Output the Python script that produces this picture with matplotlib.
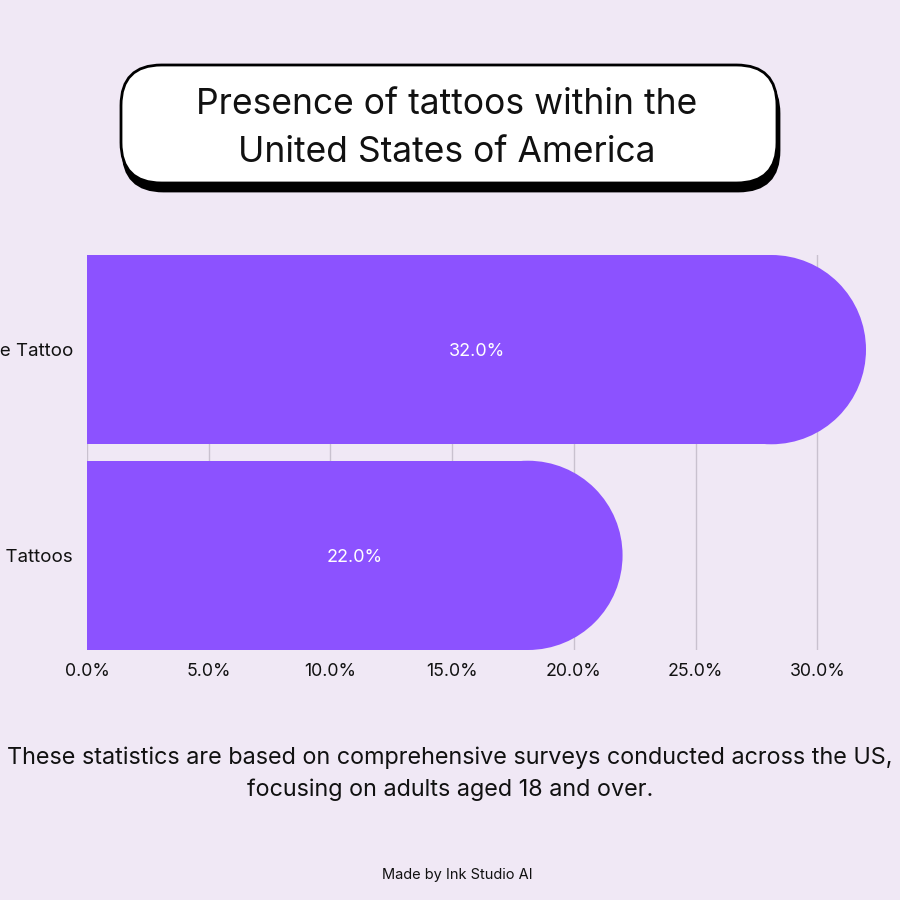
import matplotlib
matplotlib.use("Agg")
import matplotlib.pyplot as plt
from matplotlib.patches import FancyBboxPatch, Ellipse

categories = ["At Least One Tattoo", "Multiple Tattoos"]
values = [32.0, 22.0]
xticks = [0, 5, 10, 15, 20, 25, 30]
xtick_labels = ["0.0%", "5.0%", "10.0%", "15.0%", "20.0%", "25.0%", "30.0%"]
title_lines = ["Presence of tattoos within the", "United States of America"]
footnote = ("These statistics are based on comprehensive surveys conducted across the US,\n"
            "focusing on adults aged 18 and over.")
credit = "Made by Ink Studio AI"

BG = "#F0E8F5"
BAR = "#8C52FF"
plt.rcParams['font.family'] = ['Inter', 'DejaVu Sans']

fig = plt.figure(figsize=(9, 9), dpi=100, facecolor=BG)
W = H = 900.0

# Title box with shadow
def box(x0, y0, x1, y1, **kw):
    return FancyBboxPatch((x0 / W, 1 - y1 / H), (x1 - x0) / W, (y1 - y0) / H,
                          boxstyle="round,pad=0,rounding_size=0.045",
                          transform=fig.transFigure, **kw)
fig.patches.append(box(123, 73, 779, 191, facecolor="black", edgecolor="black", lw=2, zorder=1))
fig.patches.append(box(121, 65, 777, 183, facecolor="white", edgecolor="black", lw=2, zorder=2))
fig.text(447 / W, 1 - 101 / H, title_lines[0], ha="center", va="center_baseline", fontsize=25.5, color="#111111", zorder=3)
fig.text(447 / W, 1 - 149 / H, title_lines[1], ha="center", va="center_baseline", fontsize=25.5, color="#111111", zorder=3)

left, right, top, bottom = 87, 866, 255, 650
ax = fig.add_axes([left / W, 1 - bottom / H, (right - left) / W, (bottom - top) / H])
ax.set_facecolor(BG)
xmax = 32.0
ax.set_xlim(0, xmax)
ax.set_ylim(1.46, -0.46)
ypos = list(range(len(categories)))
bh = 0.92
ax.xaxis.grid(True, color="#C9C1CF", lw=1)
ax.set_axisbelow(True)

# radius in data units for a semicircular end
px_per_x = (right - left) / xmax
px_per_y = (bottom - top) / 1.92
r_px = bh * px_per_y / 2
r_x = r_px / px_per_x
for y, v in zip(ypos, values):
    ax.barh(y, v - r_x, height=bh, color=BAR, zorder=2, lw=0)
    ax.add_patch(Ellipse((v - r_x, y), 2 * r_x, bh, facecolor=BAR, edgecolor="none", zorder=2))
    ax.text(v / 2, y, f"{v:.1f}%", ha="center", va="center_baseline", color="white", fontsize=13, zorder=3)

ax.set_xticks(xticks)
ax.set_xticklabels(xtick_labels, fontsize=12.8, color="#111111")
ax.set_yticks(ypos)
ax.set_yticklabels(categories, fontsize=13.5, color="#111111")
ax.tick_params(axis="both", length=0)
ax.tick_params(axis="x", pad=9)
ax.tick_params(axis="y", pad=10)
for s in ax.spines.values():
    s.set_visible(False)

fig.text(0.5, 1 - 755 / H, footnote.split("\n")[0], ha="center", va="center_baseline", fontsize=16.85, color="#111111")
fig.text(0.5, 1 - 787 / H, footnote.split("\n")[1], ha="center", va="center_baseline", fontsize=16.85, color="#111111")
fig.text(457 / W, 1 - 873 / H, credit, ha="center", va="center_baseline", fontsize=10.5, color="#111111")

fig.savefig("out.png", dpi=100, facecolor=BG)
